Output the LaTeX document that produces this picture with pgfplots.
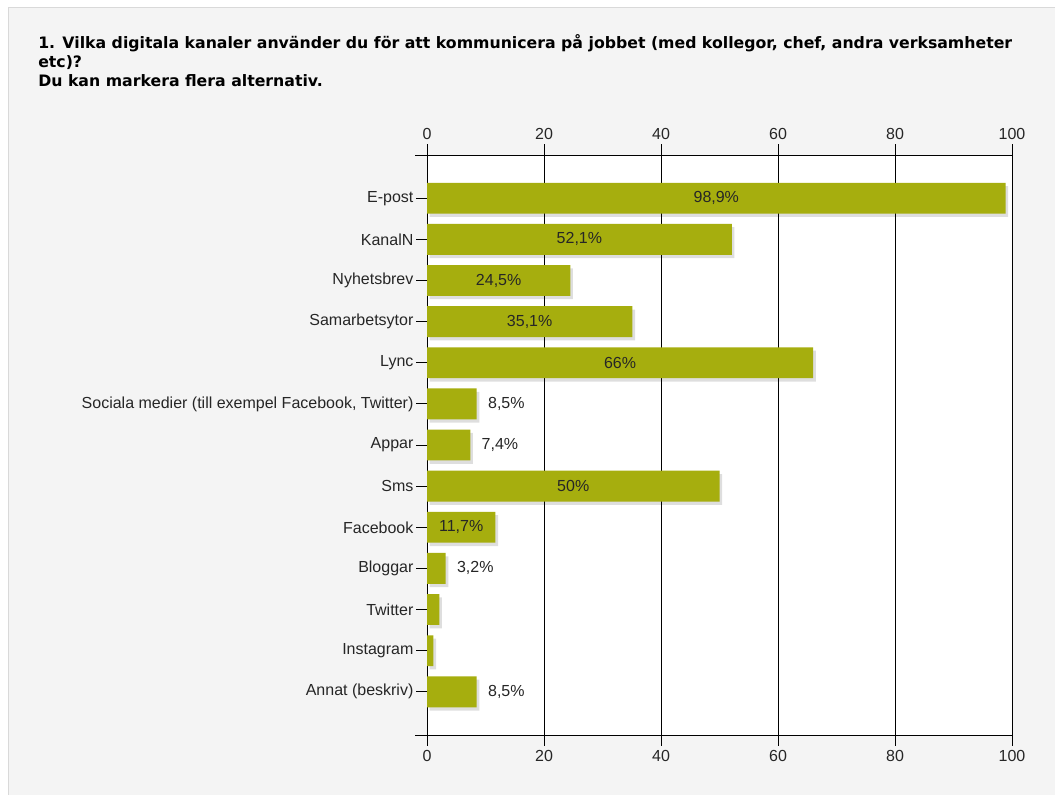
\documentclass[border=0pt]{standalone}
\usepackage{pgfplots}
\pgfplotsset{compat=1.18}
\usepackage{pgfplotstable}
\usepackage{fontspec}
\setmainfont{Liberation Sans}
\newfontfamily\titlefont{DejaVu Sans}
\usetikzlibrary{shadows}
\definecolor{barc}{RGB}{166,174,14}
\definecolor{panel}{RGB}{244,244,244}

\pgfplotstableread{
y v
0 98.9
1 52.1
2 24.5
3 35.1
4 66
5 8.5
6 7.4
7 50
8 11.7
9 3.2
10 2.1
11 1.1
12 8.5
}\bars
\pgfplotstableread{
y pos lab
0 49.45 98,9
1 26.05 52,1
2 12.25 24,5
3 17.55 35,1
4 33 66
7 25 50
8 5.85 11,7
}\inlab
\pgfplotstableread{
y pos lab
5 8.5 8,5
6 7.4 7,4
9 3.2 3,2
12 8.5 8,5
}\outlab

\begin{document}
\begin{tikzpicture}[x=1pt,y=1pt]
\useasboundingbox (0,0) rectangle (791.25,595.5);
\fill[white] (0,0) rectangle (791.25,595.5);
\filldraw[fill=panel, draw=black!15] (6,-1) rectangle (793,590.25);
\node[anchor=north west, align=left, inner sep=0,
  font=\titlefont\bfseries\fontsize{11.8}{14.3}\selectfont] at (28.5,570)
  {1. Vilka digitala kanaler använder du för att kommunicera på jobbet (med kollegor, chef, andra verksamheter\\etc)?\\Du kan markera flera alternativ.};
\begin{axis}[
  at={(320.25pt,44.25pt)}, anchor=south west,
  width=438.75pt, height=435pt, scale only axis,
  xmin=0, xmax=100, ymin=-1.05, ymax=13.05, y dir=reverse,
  clip=false,
  /pgf/number format/assume math mode=true,
  axis background/.style={fill=white},
  axis line style={black, line width=0.75pt},
  xtick={0,20,...,100}, xtick pos=both, xticklabel pos=lower,
  ytick={0,...,12}, ytick pos=left,
  yticklabels={E-post,KanalN,Nyhetsbrev,Samarbetsytor,Lync,{Sociala medier (till exempel Facebook, Twitter)},Appar,Sms,Facebook,Bloggar,Twitter,Instagram,Annat (beskriv)},
  tick align=outside, major tick length=8pt,
  tick style={black, line width=0.75pt},
  xmajorgrids, major grid style={black, line width=0.75pt},
  ticklabel style={font=\fontsize{12}{14}\selectfont, text=black!85},
  yticklabel style={inner sep=2pt},
]
\addplot[xbar, bar width=0.75, bar shift=0pt, fill=barc, draw=none,
  drop shadow={shadow xshift=2pt, shadow yshift=-2.5pt, fill=black, opacity=0.13}]
  table[x=v, y=y]{\bars};
\addplot[only marks, mark=none, point meta=explicit symbolic,
  nodes near coords={\pgfplotspointmeta\%},
  nodes near coords style={anchor=center, font=\fontsize{12}{14}\selectfont, text=black!85}]
  table[x=pos, y=y, meta=lab]{\inlab};
\addplot[only marks, mark=none, point meta=explicit symbolic,
  nodes near coords={\pgfplotspointmeta\%},
  nodes near coords style={anchor=west, xshift=5pt, font=\fontsize{12}{14}\selectfont, text=black!85}]
  table[x=pos, y=y, meta=lab]{\outlab};
\draw[black, line width=0.75pt] ([xshift=-9pt]rel axis cs:0,0) -- (rel axis cs:0,0);
\draw[black, line width=0.75pt] ([xshift=-9pt]rel axis cs:0,1) -- (rel axis cs:0,1);
\end{axis}
\begin{axis}[
  at={(320.25pt,44.25pt)}, anchor=south west,
  width=438.75pt, height=435pt, scale only axis,
  xmin=0, xmax=100, ymin=-1.05, ymax=13.05,
  /pgf/number format/assume math mode=true,
  axis line style={draw=none}, major tick length=8pt, tick align=outside,
  xtick={0,20,...,100}, xticklabel pos=upper, xtick pos=upper,
  tick style={draw=none},
  ytick=\empty,
  ticklabel style={font=\fontsize{12}{14}\selectfont, text=black!85},
]
\end{axis}
\end{tikzpicture}
\end{document}
